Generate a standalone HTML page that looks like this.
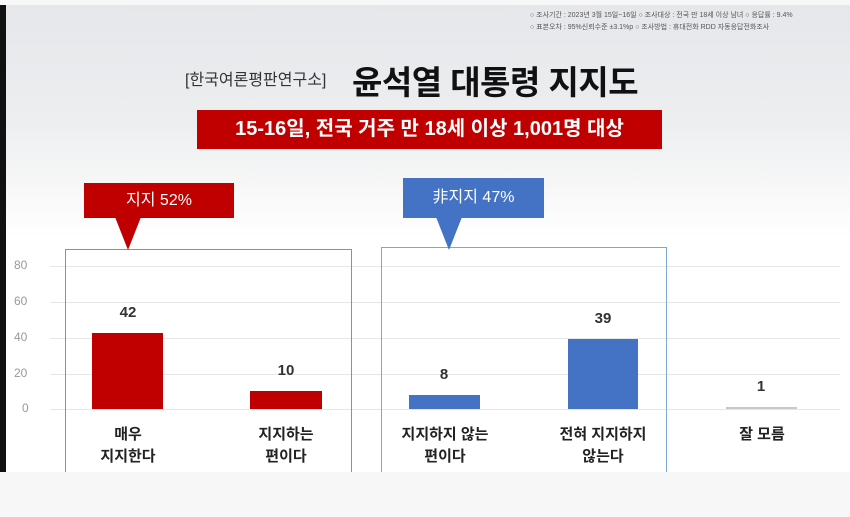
<!DOCTYPE html>
<html><head><meta charset="utf-8"><style>
body{margin:0;width:850px;height:517px;background:#f7f7f7;position:relative;overflow:hidden;font-family:"Liberation Sans","Noto Sans CJK KR",sans-serif}
.a{position:absolute}
.main{left:0;top:5px;width:850px;height:467px;background:linear-gradient(180deg,#e6e7ea 0%,#eceef0 25%,#f8f8f8 40%,#fff 50%,#fff 100%)}
.grid{left:50px;width:790px;height:1px;background:#e6e6e6}
.yl{left:14px;font-size:12px;color:#999;width:24px}
.bar{position:absolute}
.v{position:absolute;font-size:15px;color:#333;text-align:center;width:80px;font-weight:bold}
.c{position:absolute;font-size:15px;color:#222;text-align:center;width:140px;line-height:22px;font-weight:bold}
</style></head><body>
<div class="a main"></div>
<div class="a" style="left:0;top:5px;width:6px;height:467px;background:#111"></div>
<div class="a" style="left:530px;top:10px;font-size:7px;color:#555;line-height:12px;white-space:nowrap">○ 조사기간 : 2023년 3월 15일~16일 ○ 조사대상 : 전국 만 18세 이상 남녀 ○ 응답률 : 9.4%<br>○ 표본오차 : 95%신뢰수준 ±3.1%p ○ 조사방법 : 휴대전화 RDD 자동응답전화조사</div>
<div class="a" style="left:185px;top:66px;font-size:16px;color:#333">[한국여론평판연구소]</div>
<div class="a" style="left:352px;top:56px;font-size:33px;font-weight:bold;color:#111;letter-spacing:-0.5px">윤석열 대통령 지지도</div>
<div class="a" style="left:197px;top:110px;width:465px;height:39px;background:#c00000;color:#fff;font-size:20px;font-weight:bold;text-align:center;line-height:39px">15-16일, 전국 거주 만 18세 이상 1,001명 대상</div>

<div class="a grid" style="top:266px"></div>
<div class="a grid" style="top:302px"></div>
<div class="a grid" style="top:338px"></div>
<div class="a grid" style="top:374px"></div>
<div class="a grid" style="top:409px"></div>
<div class="a yl" style="top:258px">80</div>
<div class="a yl" style="top:294px">60</div>
<div class="a yl" style="top:330px">40</div>
<div class="a yl" style="top:366px">20</div>
<div class="a yl" style="top:401px;left:22px">0</div>

<div class="a" style="left:65px;top:249px;width:285px;height:230px;border:1px solid #e07070"></div>
<div class="a" style="left:381px;top:247px;width:284px;height:232px;border:1px solid #7aa8d8"></div>

<div class="a" style="left:84px;top:183px;width:150px;height:35px;background:#c00000;color:#fff;font-size:16px;text-align:center;line-height:35px">지지 52%</div>
<div class="a" style="left:115px;top:217px;width:0;height:0;border-left:13px solid transparent;border-right:13px solid transparent;border-top:33px solid #c00000"></div>
<div class="a" style="left:403px;top:178px;width:141px;height:40px;background:#4472c4;color:#fff;font-size:16px;text-align:center;line-height:40px">非지지 47%</div>
<div class="a" style="left:436px;top:217px;width:0;height:0;border-left:13px solid transparent;border-right:13px solid transparent;border-top:33px solid #4472c4"></div>

<div class="bar" style="left:92px;top:333px;width:71px;height:76px;background:#c00000"></div>
<div class="bar" style="left:250px;top:391px;width:72px;height:18px;background:#c00000"></div>
<div class="bar" style="left:409px;top:395px;width:71px;height:14px;background:#4472c4"></div>
<div class="bar" style="left:568px;top:339px;width:70px;height:70px;background:#4472c4"></div>
<div class="bar" style="left:726px;top:407px;width:71px;height:2px;background:#c8c8c8"></div>

<div class="v" style="left:88px;top:304px">42</div>
<div class="v" style="left:246px;top:362px">10</div>
<div class="v" style="left:404px;top:366px">8</div>
<div class="v" style="left:563px;top:310px">39</div>
<div class="v" style="left:721px;top:378px">1</div>

<div class="c" style="left:58px;top:424px">매우<br>지지한다</div>
<div class="c" style="left:216px;top:424px">지지하는<br>편이다</div>
<div class="c" style="left:375px;top:424px">지지하지 않는<br>편이다</div>
<div class="c" style="left:533px;top:424px">전혀 지지하지<br>않는다</div>
<div class="c" style="left:692px;top:424px">잘 모름</div>
<div class="a" style="left:0;top:472px;width:850px;height:45px;background:#f7f7f7"></div>
</body></html>
